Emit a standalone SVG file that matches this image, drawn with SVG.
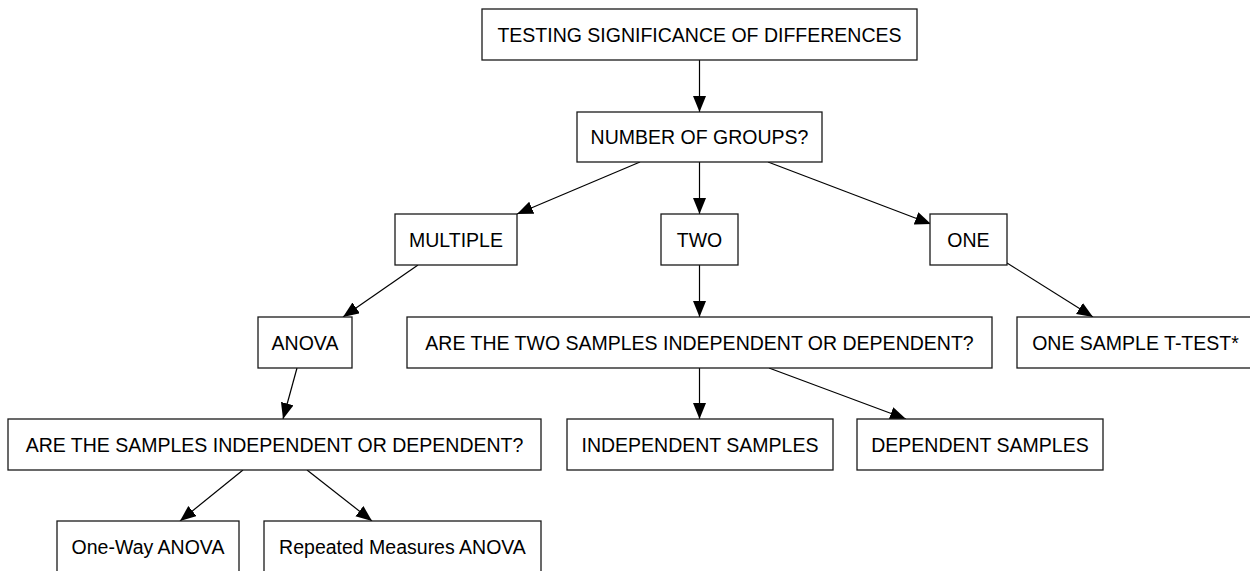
<svg xmlns="http://www.w3.org/2000/svg" width="1250" height="571" viewBox="0 0 1250 571">
<style>
rect{fill:#fff;stroke:#1a1a1a;stroke-width:1.3}
text{font-family:"Liberation Sans",Arial,sans-serif;font-size:19.5px;fill:#000;text-anchor:middle}
.e line{stroke:#000;stroke-width:1.2;marker-end:url(#ah)}
</style>
<defs>
<marker id="ah" markerUnits="userSpaceOnUse" markerWidth="17" markerHeight="14" refX="16" refY="6.5" orient="auto" viewBox="0 0 17 14">
<path d="M0,0 L16,6.5 L0,13 z" fill="#000"/>
</marker>
</defs>
<rect x="0" y="0" width="1250" height="571" style="fill:#fff;stroke:none"/>
<g class="e" id="connectors">
<line x1="699.5" y1="60" x2="699.5" y2="112"/>
<line x1="640" y1="162" x2="517" y2="214"/>
<line x1="699.5" y1="162" x2="699.5" y2="214"/>
<line x1="768" y1="162" x2="931" y2="224"/>
<line x1="418" y1="265" x2="343" y2="317"/>
<line x1="699.5" y1="265" x2="699.5" y2="317"/>
<line x1="1007" y1="263" x2="1093" y2="317"/>
<line x1="297" y1="368" x2="283" y2="419"/>
<line x1="699.5" y1="368" x2="699.5" y2="419"/>
<line x1="769" y1="368" x2="906" y2="419"/>
<line x1="243" y1="470" x2="180" y2="521"/>
<line x1="307" y1="470" x2="372" y2="521"/>
</g>
<g id="n1"><rect x="482" y="9" width="435" height="51"/><text x="699.5" y="41.5">TESTING SIGNIFICANCE OF DIFFERENCES</text></g>
<g id="n2"><rect x="577" y="112" width="245" height="50"/><text x="699.5" y="144">NUMBER OF GROUPS?</text></g>
<g id="n3"><rect x="395" y="214" width="122" height="51"/><text x="456" y="246.5">MULTIPLE</text></g>
<g id="n4"><rect x="661" y="214" width="77" height="51"/><text x="699.5" y="246.5">TWO</text></g>
<g id="n5"><rect x="930" y="214" width="77" height="51"/><text x="968.5" y="246.5">ONE</text></g>
<g id="n6"><rect x="258" y="317" width="94" height="51"/><text x="305" y="349.5">ANOVA</text></g>
<g id="n7"><rect x="407" y="317" width="585" height="51"/><text x="699.5" y="349.5">ARE THE TWO SAMPLES INDEPENDENT OR DEPENDENT?</text></g>
<g id="n8"><rect x="1017" y="317" width="240" height="51"/><text x="1135.5" y="349.5">ONE SAMPLE T-TEST*</text></g>
<g id="n9"><rect x="8" y="419" width="533" height="51"/><text x="274.5" y="451.5">ARE THE SAMPLES INDEPENDENT OR DEPENDENT?</text></g>
<g id="n10"><rect x="567" y="419" width="266" height="51"/><text x="700" y="451.5">INDEPENDENT SAMPLES</text></g>
<g id="n11"><rect x="857" y="419" width="246" height="51"/><text x="980" y="451.5">DEPENDENT SAMPLES</text></g>
<g id="n12"><rect x="57" y="521" width="182" height="60"/><text x="148" y="553.5">One-Way ANOVA</text></g>
<g id="n13"><rect x="264" y="521" width="277" height="60"/><text x="402.5" y="553.5">Repeated Measures ANOVA</text></g>
</svg>
